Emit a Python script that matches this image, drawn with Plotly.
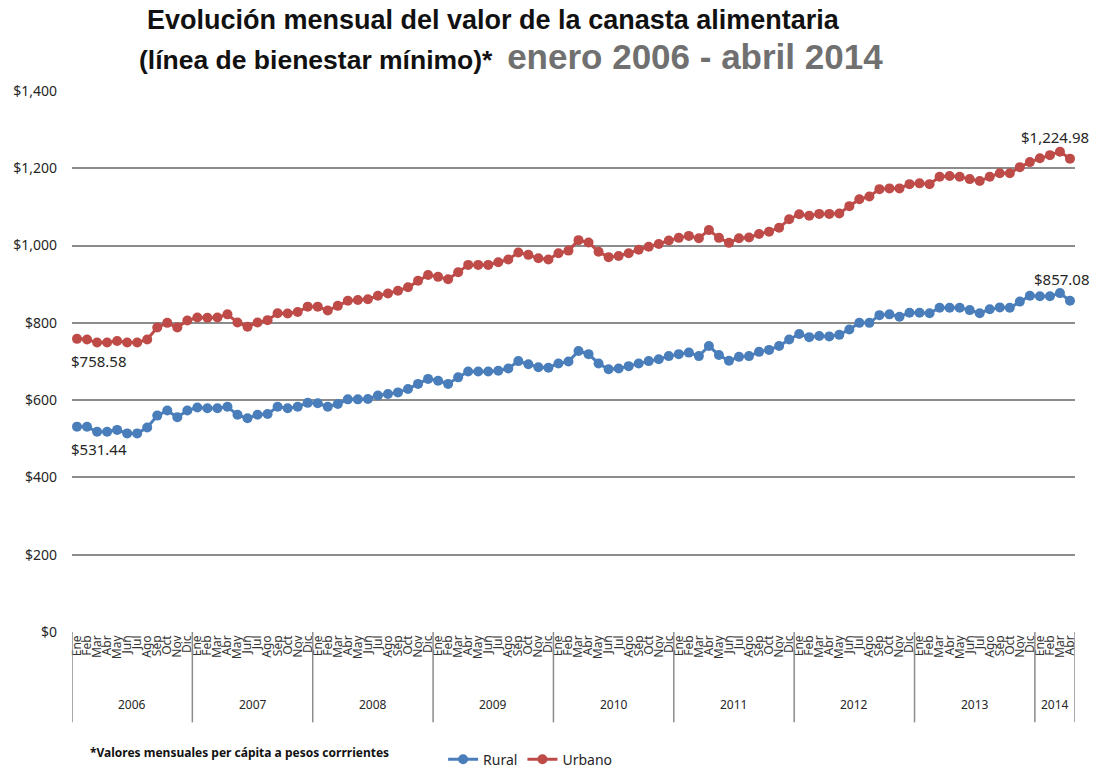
import plotly.graph_objects as go

years = ["2006", "2007", "2008", "2009", "2010", "2011", "2012", "2013", "2014"]
month_names = ["Ene", "Feb", "Mar", "Abr", "May", "Jun", "Jul", "Ago", "Sep", "Oct", "Nov", "Dic"]
months_per_year = [12, 12, 12, 12, 12, 12, 12, 12, 4]

rural = [
    531.44, 531, 518, 518, 523, 514, 514, 529, 560, 573, 556, 573,
    581, 579, 579, 583, 562, 553, 562, 564, 583, 579, 583, 593,
    592, 583, 590, 602, 602, 603, 612, 616, 620, 629, 642, 655,
    650, 642, 659, 674, 674, 674, 676, 682, 701, 693, 685, 684,
    695, 700, 727, 719, 695, 680, 682, 688, 695, 701, 706, 714,
    719, 723, 714, 740, 717, 702, 712, 714, 725, 730, 740, 757,
    771, 763, 766, 765, 769, 783, 800, 800, 820, 822, 816, 826,
    826, 825, 839, 839, 839, 833, 825, 835, 840, 839, 855, 870,
    869, 869, 877, 857.08,
]
urbano = [
    758.58, 757, 749, 749, 753, 749, 749, 757, 788, 800, 788, 806,
    814, 813, 814, 822, 801, 790, 801, 807, 825, 824, 828, 842,
    842, 832, 844, 857, 859, 861, 870, 876, 883, 892, 909, 924,
    919, 913, 931, 950, 950, 950, 957, 964, 982, 976, 967, 964,
    980, 987, 1014, 1008, 984, 970, 973, 980, 989, 997, 1004, 1013,
    1020, 1025, 1019, 1040, 1020, 1007, 1019, 1021, 1030, 1036, 1046, 1068,
    1081, 1077, 1082, 1082, 1083, 1102, 1120, 1127, 1146, 1148, 1148, 1159,
    1161, 1159, 1178, 1180, 1178, 1172, 1167, 1178, 1187, 1187, 1203, 1216,
    1226, 1234, 1243, 1224.98,
]
y_ticks = [0, 200, 400, 600, 800, 1000, 1200, 1400]
y_ticktext = ["$0", "$200", "$400", "$600", "$800", "$1,000", "$1,200", "$1,400"]

month_labels = []
for n in months_per_year:
    month_labels += month_names[:n]
x_idx = list(range(len(month_labels)))

BLUE = "#4A7EBB"
RED = "#BE4B48"
TICKFONT = "Noto Sans, Open Sans, DejaVu Sans, sans-serif"
TITLEFONT = "Liberation Sans, Arial, sans-serif"

fig = go.Figure()
fig.add_trace(go.Scatter(
    x=x_idx, y=rural, name="Rural", mode="lines+markers",
    line=dict(color=BLUE, width=3), marker=dict(color=BLUE, size=10),
))
fig.add_trace(go.Scatter(
    x=x_idx, y=urbano, name="Urbano", mode="lines+markers",
    line=dict(color=RED, width=3), marker=dict(color=RED, size=10),
))

LBL = dict(family=TICKFONT, size=15, color="#262626")
annotations = []
# data labels
annotations.append(dict(x=0, y=urbano[0], xref="x", yref="y", text="$758.58",
                        showarrow=False, xanchor="left", yanchor="top", xshift=-8, yshift=-10, font=LBL))
annotations.append(dict(x=0, y=rural[0], xref="x", yref="y", text="$531.44",
                        showarrow=False, xanchor="left", yanchor="top", xshift=-8, yshift=-10, font=LBL))
annotations.append(dict(x=x_idx[-1], y=urbano[-1], xref="x", yref="y", text="$1,224.98",
                        showarrow=False, xanchor="center", yanchor="bottom", xshift=-15, yshift=10, font=LBL))
annotations.append(dict(x=x_idx[-1], y=rural[-1], xref="x", yref="y", text="$857.08",
                        showarrow=False, xanchor="center", yanchor="bottom", xshift=-8, yshift=10, font=LBL))

# year labels and separators
shapes = []
start = 0
bounds = [-0.5]
for yr, n in zip(years, months_per_year):
    center = start + (n - 1) / 2
    annotations.append(dict(x=center, y=-0.134, xref="x", yref="paper", text=yr,
                            showarrow=False, xanchor="center", yanchor="middle",
                            font=dict(family=TICKFONT, size=12, color="#262626")))
    start += n
    bounds.append(start - 0.5)
for b in bounds:
    shapes.append(dict(type="line", xref="x", yref="paper", x0=b, x1=b, y0=0, y1=-0.167,
                       line=dict(color="#8C8C8C", width=1.5)))

# titles
annotations.append(dict(x=0.42, y=1.131, xref="paper", yref="paper",
                        text="<b>Evolución mensual del valor de la canasta alimentaria</b>",
                        showarrow=False, xanchor="center", yanchor="middle",
                        font=dict(family=TITLEFONT, size=27, color="#111111")))
annotations.append(dict(x=0.438, y=1.063, xref="paper", yref="paper",
                        text="<b>(línea de bienestar mínimo)*</b>  <b><span style='color:#707070;font-size:35px'>enero 2006 - abril 2014</span></b>",
                        showarrow=False, xanchor="center", yanchor="middle",
                        font=dict(family=TITLEFONT, size=26.5, color="#111111")))
# footnote
annotations.append(dict(x=0.016, y=-0.222, xref="paper", yref="paper",
                        text="<b>*Valores mensuales per cápita a pesos corrrientes</b>",
                        showarrow=False, xanchor="left", yanchor="middle",
                        font=dict(family=TICKFONT, size=12, color="#111111")))

fig.update_layout(
    width=1094, height=800,
    margin=dict(l=72, r=19, t=91, b=168),
    paper_bgcolor="white", plot_bgcolor="white",
    showlegend=True,
    legend=dict(orientation="h", x=0.37, y=-0.236, xanchor="left", yanchor="middle",
                font=dict(family=TICKFONT, size=14, color="#262626"),
                itemwidth=30, tracegroupgap=0, bgcolor="rgba(0,0,0,0)", borderwidth=0),
    annotations=annotations,
    shapes=shapes,
    xaxis=dict(
        range=[-0.5, len(x_idx) - 0.5], tickmode="array", tickvals=x_idx, ticktext=month_labels,
        tickangle=-90, tickfont=dict(family=TICKFONT, size=12, color="#333333"),
        showgrid=False, zeroline=False, showline=False, ticks="", automargin=False,
    ),
    yaxis=dict(
        range=[0, 1400], tickmode="array", tickvals=y_ticks, ticktext=y_ticktext,
        tickfont=dict(family=TICKFONT, size=14, color="#262626"),
        showgrid=True, gridcolor="#8C8C8C", gridwidth=1.5, zeroline=False, showline=False,
        ticks="", ticklabelstandoff=14, automargin=False,
    ),
)

fig.write_html("out.html", config={"displayModeBar": False},
               post_script="document.body.style.margin='0px';")
